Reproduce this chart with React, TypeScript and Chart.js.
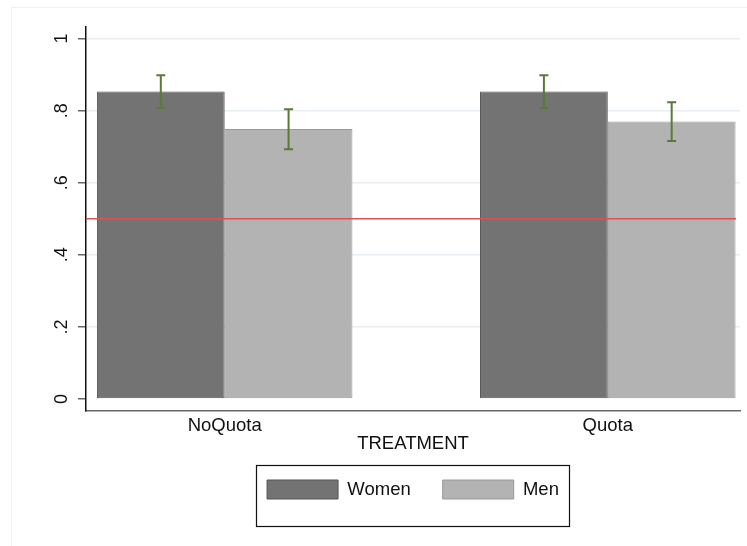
import React, { useEffect, useRef } from 'react';
import { Chart, registerables } from 'chart.js';

Chart.register(...registerables);

// ---- data ----
const categories = ['NoQuota', 'Quota'];
const categoryPositions = [0, 1];
const seriesNames = ['Women', 'Men'];
const womenMean = [0.853, 0.853];
const womenLow = [0.807, 0.807];
const womenHigh = [0.898, 0.898];
const menMean = [0.749, 0.77];
const menLow = [0.693, 0.716];
const menHigh = [0.804, 0.823];
const yTickValues = [0, 0.2, 0.4, 0.6, 0.8, 1];
const yTickLabels = ['0', '.2', '.4', '.6', '.8', '1'];
const referenceValue = 0.5;
const xTitle = 'TREATMENT';

const FONT = "'Liberation Sans', Arial, Helvetica, sans-serif";

const overlayPlugin = {
  id: 'overlay',
  beforeDraw(chart: any) {
    const { ctx } = chart;
    ctx.save();
    ctx.strokeStyle = '#efefef';
    ctx.lineWidth = 1;
    ctx.strokeRect(11.5, 7.5, 760, 560);
    ctx.restore();
  },
  afterDatasetsDraw(chart: any) {
    const { ctx, chartArea } = chart;
    const y = chart.scales.y;
    ctx.save();
    // reference line
    const ry = y.getPixelForValue(referenceValue);
    ctx.strokeStyle = '#e05050';
    ctx.lineWidth = 1.5;
    ctx.beginPath();
    ctx.moveTo(chartArea.left, ry);
    ctx.lineTo(chartArea.right - 4, ry);
    ctx.stroke();
    // error bars
    chart.data.datasets.forEach((ds: any, i: number) => {
      if (!ds.errLow) return;
      const meta = chart.getDatasetMeta(i);
      meta.data.forEach((bar: any, j: number) => {
        const x = bar.x;
        const yl = y.getPixelForValue(ds.errLow[j]);
        const yh = y.getPixelForValue(ds.errHigh[j]);
        ctx.strokeStyle = '#5a7a35';
        ctx.lineWidth = 2;
        ctx.beginPath();
        ctx.moveTo(x, yl);
        ctx.lineTo(x, yh);
        ctx.moveTo(x - 4.5, yl);
        ctx.lineTo(x + 4.5, yl);
        ctx.moveTo(x - 4.5, yh);
        ctx.lineTo(x + 4.5, yh);
        ctx.stroke();
      });
    });
    ctx.restore();
  },
  afterDraw(chart: any) {
    const lg = chart.legend;
    if (!lg || !lg.legendHitBoxes || !lg.legendHitBoxes.length) return;
    const hb = lg.legendHitBoxes;
    const first = hb[0];
    const last = hb[hb.length - 1];
    const { ctx } = chart;
    const left = Math.round(first.left - 11) + 0.5;
    const top = Math.round(first.top - 15) + 0.5;
    const right = Math.round(last.left + last.width + 10) + 0.5;
    const bottom = Math.round(first.top + 46) + 0.5;
    ctx.save();
    ctx.strokeStyle = '#111';
    ctx.lineWidth = 1.2;
    ctx.strokeRect(left, top, right - left, bottom - top);
    ctx.restore();
  },
};

export default function App() {
  const ref = useRef<HTMLCanvasElement | null>(null);

  useEffect(() => {
    if (!ref.current) return;
    const chart = new Chart(ref.current, {
      type: 'bar',
      data: {
        datasets: [
          {
            label: seriesNames[0],
            data: categoryPositions.map((p, i) => ({ x: p, y: womenMean[i] })),
            backgroundColor: '#737373',
            borderColor: '#555555',
            borderWidth: 1,
            borderSkipped: false,
            errLow: womenLow,
            errHigh: womenHigh,
          } as any,
          {
            label: seriesNames[1],
            data: categoryPositions.map((p, i) => ({ x: p, y: menMean[i] })),
            backgroundColor: '#b3b3b3',
            borderColor: '#999999',
            borderWidth: 1,
            borderSkipped: false,
            errLow: menLow,
            errHigh: menHigh,
          } as any,
        ],
      },
      options: {
        responsive: false,
        animation: false,
        devicePixelRatio: 1,
        categoryPercentage: 0.667,
        barPercentage: 1,
        layout: { padding: { left: 0, right: 7, top: 27, bottom: 37 } },
        plugins: {
          tooltip: { enabled: false },
          legend: {
            display: true,
            position: 'bottom',
            fullSize: false,
            align: 'center',
            labels: {
              boxWidth: 71,
              boxHeight: 19,
              padding: 32,
              color: '#111',
              font: { family: FONT, size: 18.5 },
            },
          },
        },
        scales: {
          x: {
            type: 'linear',
            offset: false,
            min: -0.362,
            max: 1.3451,
            grid: { display: false, drawTicks: false, offset: false },
            border: { display: true, color: '#666', width: 1.5 },
            afterBuildTicks: (s: any) => {
              s.ticks = categoryPositions.map((v) => ({ value: v }));
            },
            afterFit: (s: any) => {
              s.height = 37.3;
            },
            ticks: {
              autoSkip: false,
              maxRotation: 0,
              padding: 4,
              color: '#111',
              font: { family: FONT, size: 18.5 },
              callback: (v: any) => {
                const k = categoryPositions.indexOf(Number(v));
                return k >= 0 ? categories[k] : '';
              },
            },
            title: {
              display: true,
              text: xTitle,
              color: '#111',
              font: { family: FONT, size: 18.5 },
              padding: { top: 0, bottom: -7 },
            },
          },
          y: {
            type: 'linear',
            min: -0.0324,
            max: 1.032,
            afterBuildTicks: (s: any) => {
              s.ticks = yTickValues.map((v) => ({ value: v }));
            },
            afterFit: (s: any) => {
              s.width = 86;
            },
            grid: {
              color: (c: any) => (c.tick && c.tick.value === 0 ? 'rgba(0,0,0,0)' : '#e8eef1'),
              lineWidth: 1.5,
              tickColor: '#666',
              tickWidth: 1.5,
              tickLength: 8,
              drawTicks: true,
            },
            border: { display: true, color: '#111', width: 1.5 },
            ticks: {
              minRotation: 90,
              maxRotation: 90,
              crossAlign: 'center',
              padding: 8,
              color: '#111',
              font: { family: FONT, size: 18 },
              callback: (v: any) => {
                const k = yTickValues.findIndex((t) => Math.abs(t - Number(v)) < 1e-9);
                return k >= 0 ? yTickLabels[k] : '';
              },
            },
          },
        },
      } as any,
      plugins: [overlayPlugin],
    });
    return () => chart.destroy();
  }, []);

  return (
    <div style={{ position: 'absolute', left: 0, top: 0, width: 747, height: 546, background: '#fff' }}>
      <canvas ref={ref} width={747} height={546} style={{ display: 'block' }} />
    </div>
  );
}
